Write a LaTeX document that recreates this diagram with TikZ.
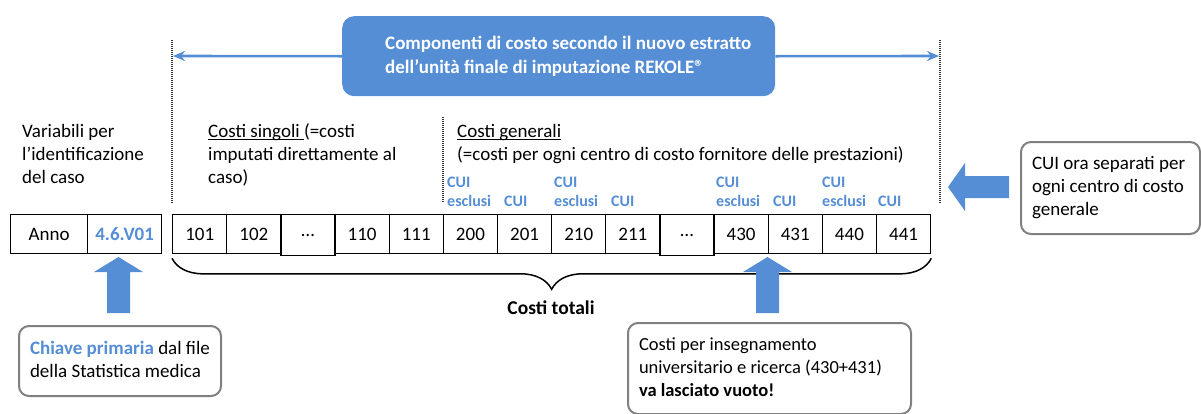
\documentclass[tikz,border=0pt]{standalone}
\usepackage{fontspec}
\setmainfont{Carlito}
\usetikzlibrary{arrows.meta,decorations.pathreplacing,calc}
\definecolor{hdrblue}{HTML}{558ED5}
\definecolor{cuiblue}{HTML}{558ED5}
\definecolor{boxgray}{HTML}{808080}
\newcommand\fs[2][23]{\fontsize{#2}{#1}\selectfont}
\newcommand\ml[1]{\begin{tabular}[t]{@{}l@{}}#1\end{tabular}}
\newcommand\boxtext[2]{\makebox[#1][l]{\begin{tabular}{@{}l@{}}#2\end{tabular}}}
\newcommand\myul[1]{\setbox0=\hbox{#1}\rlap{\rule[-3pt]{\wd0}{0.9pt}}\box0}
\tikzset{
  cell/.style={draw, line width=1.3pt, minimum width=54.14pt, minimum height=39pt,
    inner sep=0pt, anchor=north west, font=\fs{19}},
  lbl/.style={anchor=base west, inner sep=0pt, font=\fs{19}},
  cui/.style={anchor=base west, inner sep=0pt, font=\fs{16}\bfseries, text=cuiblue},
  callout/.style={draw=boxgray, line width=2pt, rounded corners=10pt, fill=white,
    anchor=north west, inner xsep=11pt, inner ysep=0pt, font=\fs{19}},
  hdrbox/.style={fill=hdrblue, draw=none, rounded corners=12pt, anchor=north west,
    inner xsep=43pt, inner ysep=0pt, minimum height=80pt, text=white, font=\fs[24]{19}\bfseries},
  blockarrow/.style={fill=hdrblue, draw=none},
  conn/.style={draw=hdrblue, line width=2.6pt, -{Stealth[length=12pt,width=10pt]}},
  guide/.style={line width=1.2pt, dash pattern=on 1pt off 1pt, black!80},
  brace/.style={draw, line width=1.5pt, decorate, decoration={brace, amplitude=31pt, mirror}}
}
\begin{document}
\begin{tikzpicture}[x=1pt,y=-1pt]
\useasboundingbox (0,0) rectangle (1201,413);

% header
\node[hdrbox] (hdr) at (342,16) {\boxtext{347pt}{Componenti di costo secondo il nuovo estratto\\dell’unità finale di imputazione REKOLE®}};

% guide lines
\coordinate (g1t) at (172,40);  \coordinate (g1b) at (172,203);
\coordinate (g2t) at (443,117); \coordinate (g2b) at (443,203);
\coordinate (g3t) at (940,40);  \coordinate (g3b) at (940,203);
\draw[guide] (g1t) -- (g1b);
\draw[guide] (g2t) -- (g2b);
\draw[guide] (g3t) -- (g3b);
\coordinate (aL) at (173,56);
\coordinate (aR) at (939,56);
\draw[conn] (hdr.west) -- (aL);
\draw[conn] (hdr.east) -- (aR);

% labels
\node[lbl] (var) at (22,137) {\ml{Variabili per\\l’identificazione\\del caso}};
\node[lbl] (sing) at (208,137) {\ml{\myul{Costi singoli }(=costi\\imputati direttamente al\\caso)}};
\node[lbl] (gen) at (457,137) {\ml{\myul{Costi generali}\\(=costi per ogni centro di costo fornitore delle prestazioni)}};

% CUI labels
\node[cui] (k1a) at (447,187) {CUI};   \node[cui] (k1b) at (447,206) {esclusi}; \node[cui] (k1c) at (504,206) {CUI};
\node[cui] (k2a) at (554,187) {CUI};   \node[cui] (k2b) at (554,206) {esclusi}; \node[cui] (k2c) at (611,206) {CUI};
\node[cui] (k3a) at (716,187) {CUI};   \node[cui] (k3b) at (716,206) {esclusi}; \node[cui] (k3c) at (773,206) {CUI};
\node[cui] (k4a) at (822,187) {CUI};   \node[cui] (k4b) at (822,206) {esclusi}; \node[cui] (k4c) at (878,206) {CUI};

% cells
\node[cell, minimum width=77pt] (anno) at (10,214) {Anno};
\node[cell, minimum width=74pt, text=cuiblue, font=\fs{19}\bfseries] (v01) at (87,214) {4.6.V01};
\node[cell] (c0)  at (172.00,214) {101};
\node[cell] (c1)  at (226.14,214) {102};
\node[cell, minimum height=41pt] (c2)  at (280.28,214) {…};
\node[cell] (c3)  at (334.43,214) {110};
\node[cell] (c4)  at (388.57,214) {111};
\node[cell] (c5)  at (442.71,214) {200};
\node[cell] (c6)  at (496.86,214) {201};
\node[cell] (c7)  at (551.00,214) {210};
\node[cell] (c8)  at (605.14,214) {211};
\node[cell, minimum height=41pt] (c9)  at (659.28,214) {…};
\node[cell] (c10) at (713.43,214) {430};
\node[cell] (c11) at (767.57,214) {431};
\node[cell] (c12) at (821.71,214) {440};
\node[cell] (c13) at (875.86,214) {441};

% brace
\draw[brace] ($(c0.south west)+(0,4)$) -- ($(c13.south east)+(0,4)$);
\node[anchor=base, inner sep=0pt, font=\fs{19.5}\bfseries] (tot) at (551,314) {Costi totali};

% callouts
\node[callout, minimum height=70pt] (lbox) at (18,325) {\boxtext{180pt}{\textcolor{cuiblue}{\bfseries Chiave primaria} dal file\\della Statistica medica}};
\node[callout, minimum height=92pt] (rbox) at (1020,141) {\boxtext{157pt}{CUI ora separati per\\ogni centro di costo\\generale}};
\node[callout, minimum height=91pt, font=\fs{18.5}] (bbox) at (627,322) {\boxtext{261pt}{Costi per insegnamento\\universitario e ricerca (430+431)\\\textbf{va lasciato vuoto!}}};

% block arrows
\fill[blockarrow] (107,313) -- (107,272) -- (94,272) -- (118.5,257) -- (143,272) -- (130,272) -- (130,313) -- cycle;
\fill[blockarrow] (756,313) -- (756,272) -- (743,272) -- (767.5,257) -- (792,272) -- (779,272) -- (779,313) -- cycle;
\fill[blockarrow] (1009,176) -- (965,176) -- (965,163) -- (948,187) -- (965,211) -- (965,198) -- (1009,198) -- cycle;
\end{tikzpicture}
\end{document}
